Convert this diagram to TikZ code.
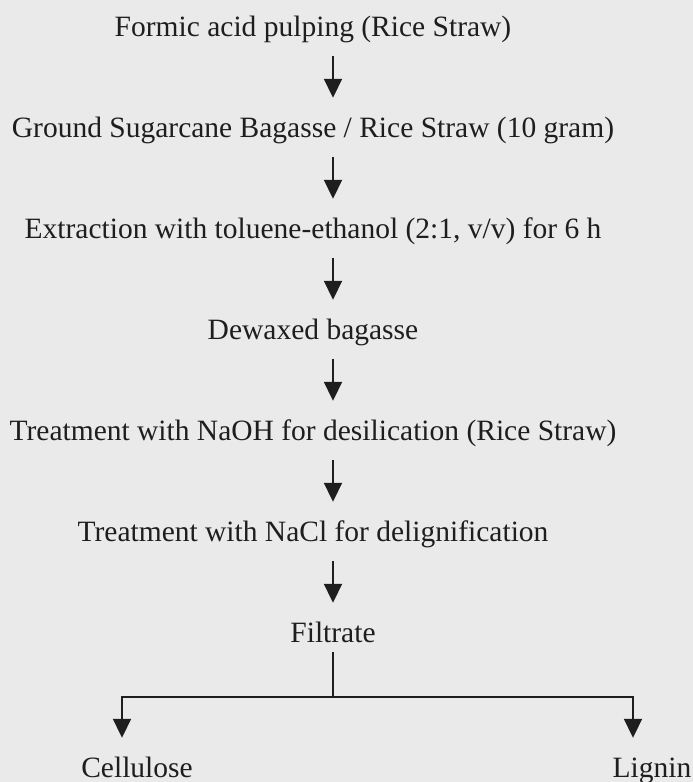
\documentclass[tikz,border=0pt]{standalone}
\usepackage{fontspec}
\setmainfont{Liberation Serif}
\usepackage{tikz}
\usetikzlibrary{arrows.meta,positioning,calc}
\definecolor{paper}{RGB}{234,234,234}
\definecolor{ink}{RGB}{30,30,30}

\begin{document}
\begin{tikzpicture}[
    x=1pt, y=-1pt,
    stepnode/.style={inner sep=0pt, anchor=base, text height=20pt, text depth=7pt,
                     font=\fontsize{29.5}{34}\selectfont, text=ink},
    line/.style={draw=ink, line width=1.9pt},
    arrow/.style={line, -{Triangle[length=19pt, width=18pt]},
                  shorten <=13pt, shorten >=19pt}
]
\useasboundingbox[fill=paper] (0,0) rectangle (693,782);

%% ---- steps ----
\node[stepnode] (n1) at (313, 36)  {Formic acid pulping (Rice Straw)};
\node[stepnode] (n2) at (313,137)  {Ground Sugarcane Bagasse / Rice Straw (10 gram)};
\node[stepnode] (n3) at (313,238)  {Extraction with toluene-ethanol (2:1, v/v) for 6 h};
\node[stepnode] (n4) at (313,339)  {Dewaxed bagasse};
\node[stepnode] (n5) at (313,440)  {Treatment with NaOH for desilication (Rice Straw)};
\node[stepnode] (n6) at (313,541)  {Treatment with NaCl for delignification};
\node[stepnode] (fil) at (333,642) {Filtrate};

\draw[arrow] (n1.south -| fil) -- (n2.north -| fil);
\draw[arrow] (n2.south -| fil) -- (n3.north -| fil);
\draw[arrow] (n3.south -| fil) -- (n4.north -| fil);
\draw[arrow] (n4.south -| fil) -- (n5.north -| fil);
\draw[arrow] (n5.south -| fil) -- (n6.north -| fil);
\draw[arrow] (n6.south -| fil) -- (fil.north);

%% ---- split ----
\node[stepnode] (cel) at (137,777) {Cellulose};
\node[stepnode] (lig) at (652,777) {Lignin};
\coordinate (split) at (333,697);
\coordinate (lbr)   at (122,697);
\coordinate (rbr)   at (633,697);

\draw[line] ([yshift=-3pt]fil.south) -- (split);
\draw[arrow, shorten <=0pt, line join=miter] (split) -- (lbr) -- (lbr |- cel.north);
\draw[arrow, shorten <=0pt, line join=miter] (split) -- (rbr) -- (rbr |- lig.north);

\end{tikzpicture}
\end{document}
